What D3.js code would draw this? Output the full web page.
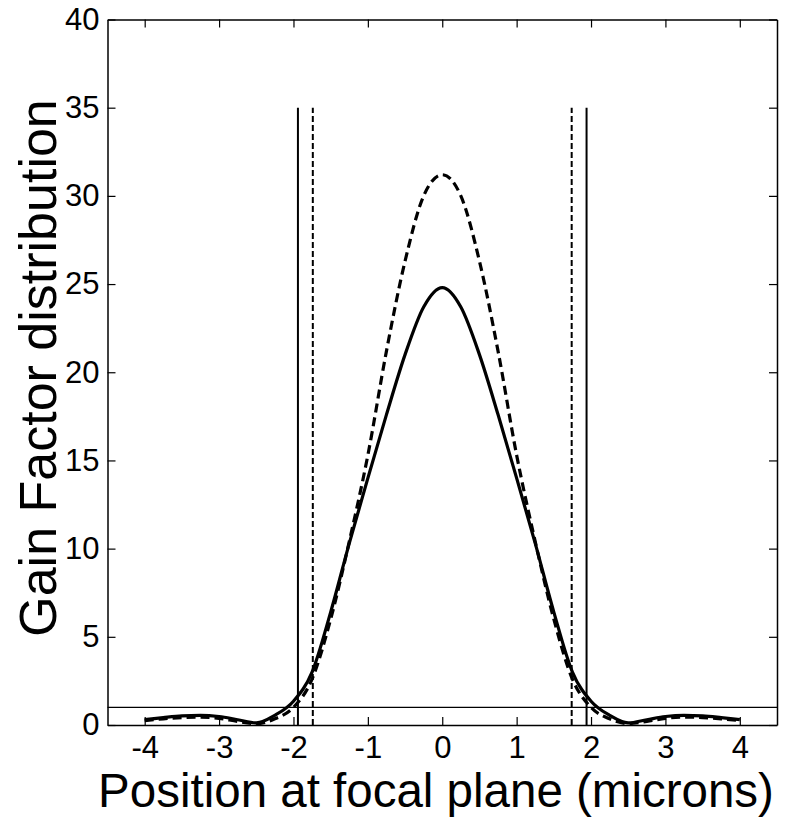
<!DOCTYPE html>
<html>
<head>
<meta charset="utf-8">
<script src="https://d3js.org/d3.v7.min.js"></script>
<style>
  body { margin: 0; background: #fff; }
  text { font-family: "Liberation Sans", Arial, sans-serif; fill: #000; }
</style>
</head>
<body>
<div id="chart-area"></div>
<script>
// data
var xs = [-4, -3.75, -3.5, -3.25, -3, -2.75, -2.5, -2.25, -2, -1.75, -1.5, -1.25, -1, -0.75, -0.5, -0.25,
          0, 0.25, 0.5, 0.75, 1, 1.25, 1.5, 1.75, 2, 2.25, 2.5, 2.75, 3, 3.25, 3.5, 3.75, 4]
var solidVals = [0.3, 0.42, 0.52, 0.55, 0.48, 0.3, 0.12, 0.55, 1.35, 3.0, 6.4, 10.3, 14.0, 17.6, 21.0, 23.7,
                 24.8, 23.7, 21.0, 17.6, 14.0, 10.3, 6.4, 3.0, 1.35, 0.55, 0.12, 0.3, 0.48, 0.55, 0.52, 0.42, 0.3]
var dashedVals = [0.25, 0.35, 0.42, 0.45, 0.38, 0.2, 0.08, 0.35, 1.0, 2.6, 6.0, 10.4, 15.3, 21.2, 26.3, 30.0,
                  31.2, 30.0, 26.3, 21.2, 15.3, 10.4, 6.0, 2.6, 1.0, 0.35, 0.08, 0.2, 0.38, 0.45, 0.42, 0.35, 0.25]
var solidMarks = [-1.94, 1.94]
var dashedMarks = [-1.74, 1.74]
var markTop = 35
var threshold = 1
var xTicks = [-4, -3, -2, -1, 0, 1, 2, 3, 4]
var yTicks = [0, 5, 10, 15, 20, 25, 30, 35, 40]

// margin
var margin = { left: 107.5, right: 13, top: 19.5, bottom: 98 }
var width = 790 - margin.left - margin.right,
    height = 823 - margin.top - margin.bottom

var svg = d3.select("#chart-area")
    .append("svg")
        .attr("width", 790)
        .attr("height", 823)
var g = svg.append("g")
        .attr("transform", "translate(" + margin.left + ", " + margin.top + ")")

// scales
var x = d3.scaleLinear().domain([-4.5, 4.5]).range([0, width])
var y = d3.scaleLinear().domain([0, 40]).range([height, 0])

// plain hyphen for negatives, like the original
var fmt = function(d){ return String(d) }

// axes (ticks inside, on all sides)
var tickLen = 8
g.append("g")
    .attr("class", "x axis")
    .attr("transform", "translate(0," + height + ")")
    .call(d3.axisBottom(x).tickValues(xTicks).tickFormat(fmt).tickSizeInner(-tickLen).tickSizeOuter(0).tickPadding(11))
g.append("g")
    .call(d3.axisTop(x).tickValues(xTicks).tickSizeInner(-tickLen).tickSizeOuter(0).tickFormat(""))
g.append("g")
    .attr("class", "y axis")
    .call(d3.axisLeft(y).tickValues(yTicks).tickFormat(fmt).tickSizeInner(-tickLen).tickSizeOuter(0).tickPadding(8))
g.append("g")
    .attr("transform", "translate(" + width + ",0)")
    .call(d3.axisRight(y).tickValues(yTicks).tickSizeInner(-tickLen).tickSizeOuter(0).tickFormat(""))

g.selectAll(".domain").attr("stroke", "#000").attr("stroke-width", 1.5)
g.selectAll(".tick line").attr("stroke", "#000").attr("stroke-width", 1.2)
g.selectAll(".tick text").attr("font-size", "31px").attr("font-family", "Liberation Sans, Arial, sans-serif")

// threshold line
g.append("line")
    .attr("x1", 0).attr("x2", width)
    .attr("y1", y(threshold)).attr("y2", y(threshold))
    .attr("stroke", "#000").attr("stroke-width", 1.2)

// vertical marker lines
g.selectAll(".vsolid").data(solidMarks).enter().append("line")
    .attr("class", "vsolid")
    .attr("x1", function(d){ return x(d) }).attr("x2", function(d){ return x(d) })
    .attr("y1", y(0)).attr("y2", y(markTop))
    .attr("stroke", "#000").attr("stroke-width", 2)
g.selectAll(".vdash").data(dashedMarks).enter().append("line")
    .attr("class", "vdash")
    .attr("x1", function(d){ return x(d) }).attr("x2", function(d){ return x(d) })
    .attr("y1", y(0)).attr("y2", y(markTop))
    .attr("stroke", "#000").attr("stroke-width", 2)
    .attr("stroke-dasharray", "6,3")

// curves
var line = d3.line()
    .x(function(d){ return x(d[0]) })
    .y(function(d){ return y(d[1]) })
    .curve(d3.curveMonotoneX)

g.append("path")
    .datum(xs.map(function(v, i){ return [v, dashedVals[i]] }))
    .attr("d", line)
    .attr("fill", "none").attr("stroke", "#000").attr("stroke-width", 3.2)
    .attr("stroke-dasharray", "9,5")
g.append("path")
    .datum(xs.map(function(v, i){ return [v, solidVals[i]] }))
    .attr("d", line)
    .attr("fill", "none").attr("stroke", "#000").attr("stroke-width", 3.2)

// labels
svg.append("text")
    .attr("x", 436)
    .attr("y", 807)
    .attr("font-size", "47.5px")
    .attr("text-anchor", "middle")
    .text("Position at focal plane (microns)")

svg.append("text")
    .attr("transform", "translate(56,368) rotate(-90)")
    .attr("font-size", "52px")
    .attr("text-anchor", "middle")
    .text("Gain Factor distribution")
</script>
</body>
</html>
